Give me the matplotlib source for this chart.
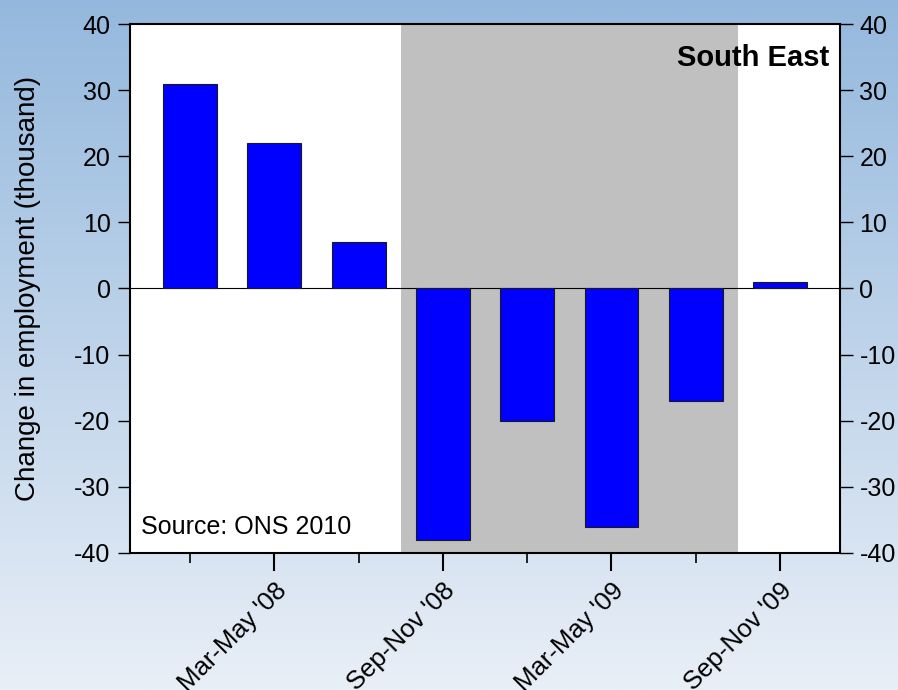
import numpy as np
import matplotlib.pyplot as plt

plt.rcParams['font.family'] = ['Liberation Sans', 'DejaVu Sans']
plt.rcParams['axes.unicode_minus'] = False

# quarterly change in employment, South East
periods = ["Dec-Feb '08", "Mar-May '08", "Jun-Aug '08", "Sep-Nov '08",
           "Dec-Feb '09", "Mar-May '09", "Jun-Aug '09", "Sep-Nov '09"]
change = [31, 22, 7, -38, -20, -36, -17, 1]
labelled = [1, 3, 5, 7]
recession = (2.5, 6.5)

fig = plt.figure(figsize=(8.98, 6.90), dpi=100)

# blue gradient background
bg = fig.add_axes([0, 0, 1, 1], zorder=-10)
grad = np.linspace(0, 1, 256).reshape(-1, 1)
top = np.array([0x94, 0xb8, 0xdd]) / 255
bot = np.array([0xe9, 0xef, 0xf7]) / 255
img = top + (bot - top) * grad[..., None]
bg.imshow(img, aspect='auto', extent=[0, 1, 0, 1])
bg.axis('off')

ax = fig.add_axes([0.1448, 0.1986, 0.7906, 0.7666])
x = np.arange(len(change))
ax.axvspan(*recession, color='#c0c0c0', lw=0, zorder=0)
ax.bar(x, change, width=0.64, color='#0000ff', edgecolor='#1a1a1a', lw=0.8, zorder=2)
ax.axhline(0, color='black', lw=0.8, zorder=1)

ax.set_xlim(-0.71, 7.71)
ax.set_ylim(-40, 40)
ax.set_yticks(range(-40, 41, 10))
ax.tick_params(axis='y', direction='out', length=9, width=1, labelsize=18,
               right=True, labelright=True, pad=5)

ax.set_xticks([i for i in x if i not in labelled], minor=True)
ax.set_xticks(labelled)
ax.set_xticklabels([periods[i] for i in labelled], rotation=45, ha='right',
                   rotation_mode='anchor', fontsize=18.5)
ax.tick_params(axis='x', which='major', direction='out', length=13, width=1.5, pad=5)
ax.tick_params(axis='x', which='minor', direction='out', length=7, width=1.2)

for s in ax.spines.values():
    s.set_linewidth(1.5)

ax.set_ylabel('Change in employment (thousand)', fontsize=20, labelpad=24)
ax.text(0.985, 0.935, 'South East', transform=ax.transAxes, ha='right', va='center',
        fontsize=21, fontweight='bold')
ax.text(0.015, 0.05, 'Source: ONS 2010', transform=ax.transAxes, ha='left', va='center',
        fontsize=18)

fig.savefig('out.png', dpi=100)
